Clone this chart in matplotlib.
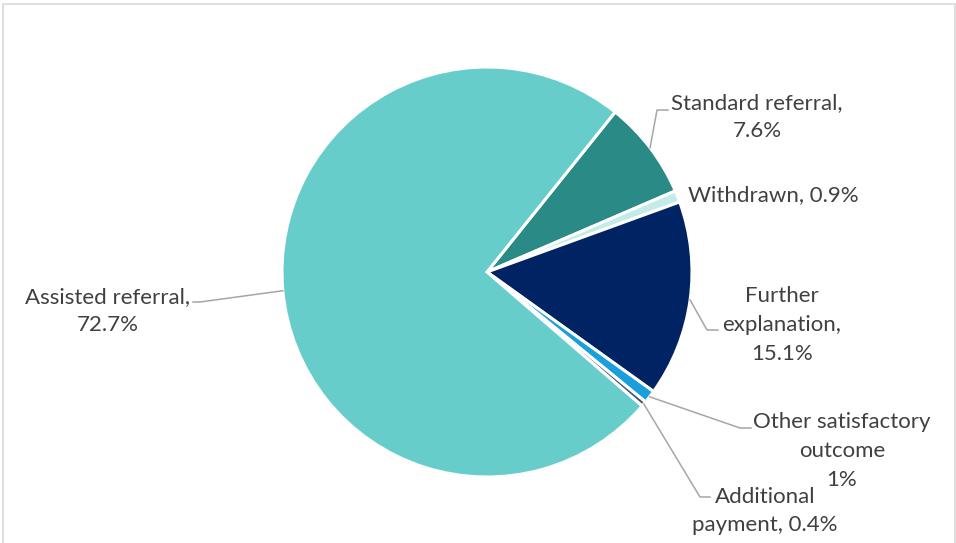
import numpy as np
import matplotlib
matplotlib.use('Agg')
from matplotlib import pyplot as plt
from matplotlib.patches import Rectangle

plt.rcParams['font.family'] = ['Lato', 'DejaVu Sans']

# data, in drawing order (clockwise)
categories = ['Standard referral', 'Withdrawn', 'Further explanation',
              'Other satisfactory outcome', 'Additional payment', 'Assisted referral']
values = [7.6, 0.9, 15.1, 1.0, 0.4, 72.7]
label_texts = ['Standard referral,\n7.6%', 'Withdrawn, 0.9%', 'Further\nexplanation,\n15.1%',
               'Other satisfactory\noutcome\n1%', 'Additional\npayment, 0.4%',
               'Assisted referral,\n72.7%']
colors = ['#2A8A85', '#C4EBE9', '#002463', '#1A9FDC', '#44546A', '#66CDCB']

W, H = 956, 543
cx, cy, R = 487, 272, 205


def px(x, y):
    # pixel position (from top-left) -> data coords of the pie axes
    return (x - cx) / R, (cy - y) / R


fig = plt.figure(figsize=(W / 100, H / 100), dpi=100)
ax = fig.add_axes([0, 0, 1, 1])
wedges, _ = ax.pie(values, colors=colors, startangle=51.3, counterclock=False,
                   radius=1, wedgeprops=dict(edgecolor='white', linewidth=2.2))
ax.set_xlim(-cx / R, (W - cx) / R)
ax.set_ylim((cy - H) / R, cy / R)
ax.set_aspect('auto')
ax.axis('off')

# chart frame
fig.patches.append(Rectangle((3 / W, -0.05), (W - 4) / W, 1 - 4 / H + 0.05,
                             transform=fig.transFigure, fill=False,
                             edgecolor='#D9D9D9', linewidth=1.2))

# label layout: text centre, elbow, leader end (pixels)
layout = {
    'Standard referral': ((757, 117), (657, 110), (668, 110)),
    'Withdrawn': ((773, 195), None, None),
    'Further explanation': ((782, 325), (707, 330), (718, 330)),
    'Other satisfactory outcome': ((842, 451), (740, 428), (751, 428)),
    'Additional payment': ((765, 511), (700, 497), (710, 497)),
    'Assisted referral': ((108, 311), (200, 302), (193, 302)),
}

for w, name, txt in zip(wedges, categories, label_texts):
    tpos, elbow, end = layout[name]
    ax.text(*px(*tpos), txt, ha='center', va='center', fontsize=16,
            color='#404040', linespacing=1.55)
    if elbow is None:
        continue
    mid = np.deg2rad((w.theta1 + w.theta2) / 2)
    sx, sy = np.cos(mid), np.sin(mid)
    ex, ey = px(*elbow)
    fx, fy = px(*end)
    ax.plot([sx, ex, fx], [sy, ey, fy], color='#A6A6A6', linewidth=1.1)

fig.savefig('out.png', dpi=100)
